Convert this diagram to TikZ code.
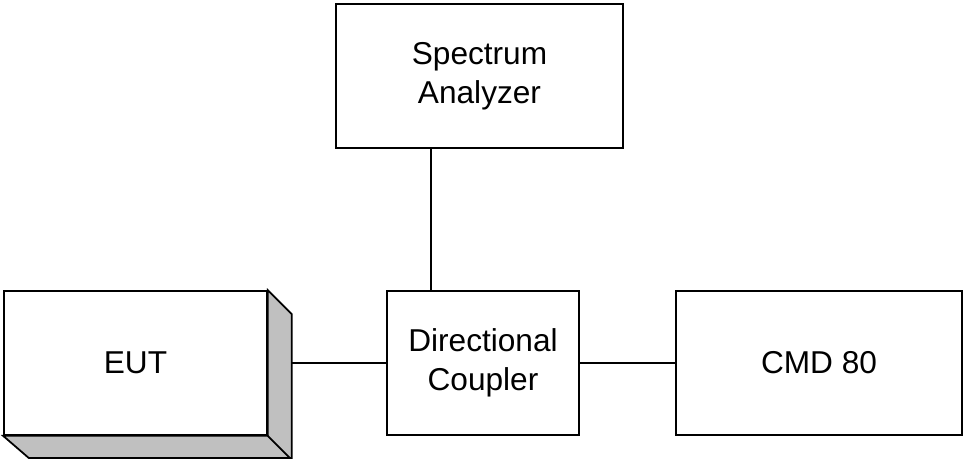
\documentclass[tikz,border=0pt]{standalone}
\usepackage{fontspec}
\setmainfont{Liberation Sans}
\usetikzlibrary{calc,positioning}
\definecolor{sidegray}{RGB}{192,192,192}

\begin{document}
\begin{tikzpicture}
  [x=0.02cm, y=-0.02cm,
   unit/.style={draw, line width=1pt, fill=white, inner sep=0pt, align=center,
                minimum height=2.88cm, font=\fontsize{18}{22}\selectfont},
   side/.style={draw, line width=1pt, fill=sidegray, line join=miter},
   wire/.style={draw, line width=1pt}]

  \def\Depth{0.48cm}
  \useasboundingbox (0,0) rectangle (964,459);

  % units
  \node [unit, minimum width=5.74cm] (sa)  at (479.5, 76) {Spectrum\\Analyzer};
  \node [unit, minimum width=5.26cm] (eut) at (135.5,363) {EUT};
  \node [unit, minimum width=3.84cm] (dc)  at (483,  363) {Directional\\Coupler};
  \node [unit, minimum width=5.72cm] (cmd) at (819,  363) {CMD 80};

  % box depth of the EUT
  \path [side] (eut.north east) -- ++(\Depth,-\Depth) -- ++(0,-2.88cm)
               -- ++(-5.26cm,0) -- (eut.south west) -- (eut.south east) -- cycle;
  \draw [line width=1pt] (eut.south east) -- ++(\Depth,-\Depth);
  \coordinate (eut-side) at ([xshift=\Depth]eut.east);
  \coordinate (tap) at (431,291);

  % connections
  \path [wire] (eut-side) -- (dc.west);
  \path [wire] (dc.east) -- (cmd.west);
  \path [wire] (tap |- sa.south) -- (tap);
\end{tikzpicture}
\end{document}
